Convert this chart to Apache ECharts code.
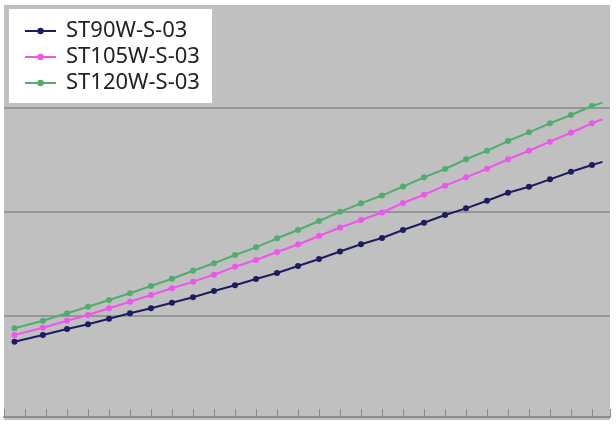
<!DOCTYPE html>
<html>
<head>
<meta charset="utf-8">
<script src="https://cdn.jsdelivr.net/npm/echarts@6/dist/echarts.min.js"></script>
<style>
  html, body { margin: 0; padding: 0; background: #fff; }
  #chart { width: 616px; height: 426px; }
</style>
</head>
<body>
<div id="chart"></div>
<script>
// x positions of the points (one unit = one tick)
var xValues = [0.5, 1.85, 3, 4, 5, 6, 7, 8, 9, 10, 11, 12, 13, 14, 15, 16, 17, 18, 19, 20,
  21, 22, 23, 24, 25, 26, 27, 28, 28.5];

var seriesNames = ['ST90W-S-03', 'ST105W-S-03', 'ST120W-S-03'];

var st90 = [0.753, 0.817, 0.875, 0.920, 0.974, 1.026, 1.074, 1.128, 1.180, 1.240, 1.295,
  1.356, 1.413, 1.481, 1.548, 1.620, 1.690, 1.750, 1.827, 1.897, 1.971, 2.035, 2.108,
  2.185, 2.243, 2.314, 2.387, 2.452, 2.482];

var st105 = [0.817, 0.887, 0.955, 1.009, 1.074, 1.137, 1.202, 1.266, 1.330, 1.397, 1.474,
  1.538, 1.615, 1.687, 1.769, 1.851, 1.923, 1.995, 2.086, 2.166, 2.253, 2.333, 2.416,
  2.507, 2.589, 2.676, 2.762, 2.853, 2.891];

var st120 = [0.882, 0.955, 1.026, 1.089, 1.154, 1.218, 1.288, 1.358, 1.435, 1.507, 1.586,
  1.660, 1.747, 1.827, 1.913, 2.002, 2.083, 2.158, 2.245, 2.333, 2.413, 2.507, 2.589,
  2.682, 2.766, 2.853, 2.932, 3.019, 3.051];

var colors = ['#1c1c5e', '#ee55ee', '#4fae6c'];

function toPoints(vals) {
  return vals.map(function (v, i) {
    var p = { value: [xValues[i], v] };
    if (i === vals.length - 1) p.symbol = 'none';
    return p;
  });
}

function makeSeries(name, vals, color) {
  return {
    name: name,
    type: 'line',
    data: toPoints(vals),
    symbol: 'circle',
    symbolSize: 6,
    lineStyle: { width: 2, color: color },
    itemStyle: { color: color },
    emphasis: { disabled: true },
    animation: false
  };
}

var chart = echarts.init(document.getElementById('chart'));

var option = {
  backgroundColor: '#ffffff',
  color: colors,
  grid: {
    left: 4, right: 6, top: 5, bottom: 6,
    show: true,
    backgroundColor: '#c0c0c0',
    borderWidth: 0
  },
  legend: {
    orient: 'vertical',
    left: 9,
    top: 9,
    padding: [11, 12, 9, 15],
    backgroundColor: '#ffffff',
    itemWidth: 31,
    itemHeight: 8,
    itemGap: 4,
    textStyle: {
      fontFamily: 'Noto Sans',
      fontSize: 22,
      color: '#222222',
      padding: [0, 0, 0, 5]
    },
    data: seriesNames
  },
  xAxis: {
    type: 'value',
    min: 0,
    max: 28.857,
    interval: 1,
    offset: -3,
    axisLine: { show: true, lineStyle: { color: '#8e8e8e', width: 2 } },
    axisTick: { show: true, inside: true, length: 8, lineStyle: { color: '#8a8a8a', width: 1 } },
    axisLabel: { show: false },
    splitLine: { show: false }
  },
  yAxis: {
    type: 'value',
    min: 0,
    max: 3.99,
    interval: 1,
    axisLine: { show: false },
    axisTick: { show: false },
    axisLabel: { show: false },
    splitLine: {
      show: true,
      showMinLine: false,
      showMaxLine: false,
      lineStyle: { color: '#969696', width: 2 }
    }
  },
  series: [
    makeSeries(seriesNames[0], st90, colors[0]),
    makeSeries(seriesNames[1], st105, colors[1]),
    makeSeries(seriesNames[2], st120, colors[2])
  ]
};

chart.setOption(option);
</script>
</body>
</html>
